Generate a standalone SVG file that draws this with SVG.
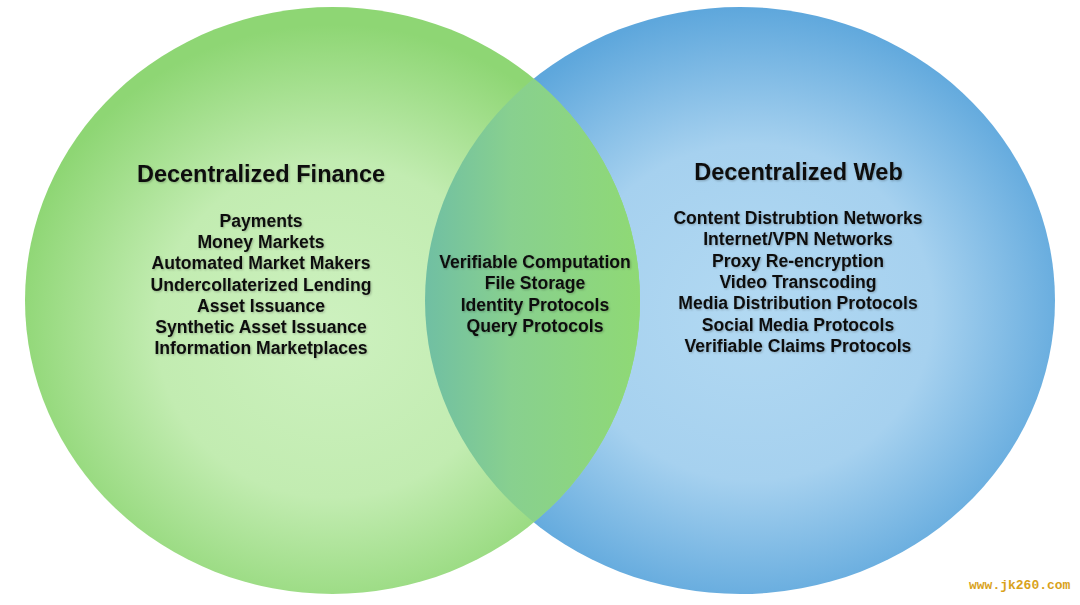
<svg xmlns="http://www.w3.org/2000/svg" width="1080" height="605" viewBox="0 0 1080 605">
  <defs>
    <radialGradient id="gGreen" cx="50%" cy="55%" r="52%">
      <stop offset="0" stop-color="#cdf1bf"/>
      <stop offset="0.55" stop-color="#c2ecb1"/>
      <stop offset="1" stop-color="#8ed674"/>
    </radialGradient>
    <radialGradient id="gBlue" cx="52%" cy="52%" r="52%">
      <stop offset="0" stop-color="#b2d9f2"/>
      <stop offset="0.55" stop-color="#a6d1ef"/>
      <stop offset="1" stop-color="#5ea7dc"/>
    </radialGradient>
    <linearGradient id="gLens" x1="425" y1="0" x2="640" y2="0" gradientUnits="userSpaceOnUse">
      <stop offset="0" stop-color="#70bfa3"/>
      <stop offset="0.4" stop-color="#88d08f"/>
      <stop offset="1" stop-color="#8fd975"/>
    </linearGradient>
    <clipPath id="clipBlue">
      <ellipse cx="740" cy="300.5" rx="315" ry="293.5"/>
    </clipPath>
    <filter id="shadow" x="-10%" y="-30%" width="120%" height="160%">
      <feDropShadow dx="1" dy="1" stdDeviation="1" flood-color="#000000" flood-opacity="0.25"/>
    </filter>
  </defs>
  <style>
    .title { font-family: "Liberation Sans", Arial, sans-serif; font-weight: bold; font-size: 23.5px; fill: #111111; text-anchor: middle; }
    .item { font-family: "Liberation Sans", Arial, sans-serif; font-weight: bold; font-size: 17.6px; fill: #111111; text-anchor: middle; }
    .wm { font-family: "Liberation Mono", "DejaVu Sans Mono", monospace; font-weight: bold; font-size: 13px; fill: #d9a21b; }
  </style>
  <rect width="1080" height="605" fill="#ffffff"/>

  <g id="web">
    <ellipse cx="740" cy="300.5" rx="315" ry="293.5" fill="url(#gBlue)"/>
  </g>
  <g id="finance">
    <ellipse cx="332.5" cy="300.5" rx="307.5" ry="293.5" fill="url(#gGreen)"/>
  </g>
  <g id="overlap">
    <ellipse cx="332.5" cy="300.5" rx="307.5" ry="293.5" fill="url(#gLens)" clip-path="url(#clipBlue)"/>
  </g>

  <g id="finance-text" filter="url(#shadow)">
    <text class="title" x="261" y="182">Decentralized Finance</text>
    <text class="item" x="261" y="227">Payments</text>
    <text class="item" x="261" y="248.2">Money Markets</text>
    <text class="item" x="261" y="269.4">Automated Market Makers</text>
    <text class="item" x="261" y="290.6">Undercollaterized Lending</text>
    <text class="item" x="261" y="311.8">Asset Issuance</text>
    <text class="item" x="261" y="333">Synthetic Asset Issuance</text>
    <text class="item" x="261" y="354.2">Information Marketplaces</text>
  </g>

  <g id="overlap-text" filter="url(#shadow)">
    <text class="item" x="535" y="268">Verifiable Computation</text>
    <text class="item" x="535" y="289.3">File Storage</text>
    <text class="item" x="535" y="310.6">Identity Protocols</text>
    <text class="item" x="535" y="332">Query Protocols</text>
  </g>

  <g id="web-text" filter="url(#shadow)">
    <text class="title" x="798.5" y="180">Decentralized Web</text>
    <text class="item" x="798" y="224">Content Distrubtion Networks</text>
    <text class="item" x="798" y="245.3">Internet/VPN Networks</text>
    <text class="item" x="798" y="266.6">Proxy Re-encryption</text>
    <text class="item" x="798" y="287.9">Video Transcoding</text>
    <text class="item" x="798" y="309.2">Media Distribution Protocols</text>
    <text class="item" x="798" y="330.5">Social Media Protocols</text>
    <text class="item" x="798" y="351.8">Verifiable Claims Protocols</text>
  </g>

  <text class="wm" x="969" y="589">www.jk260.com</text>
</svg>
